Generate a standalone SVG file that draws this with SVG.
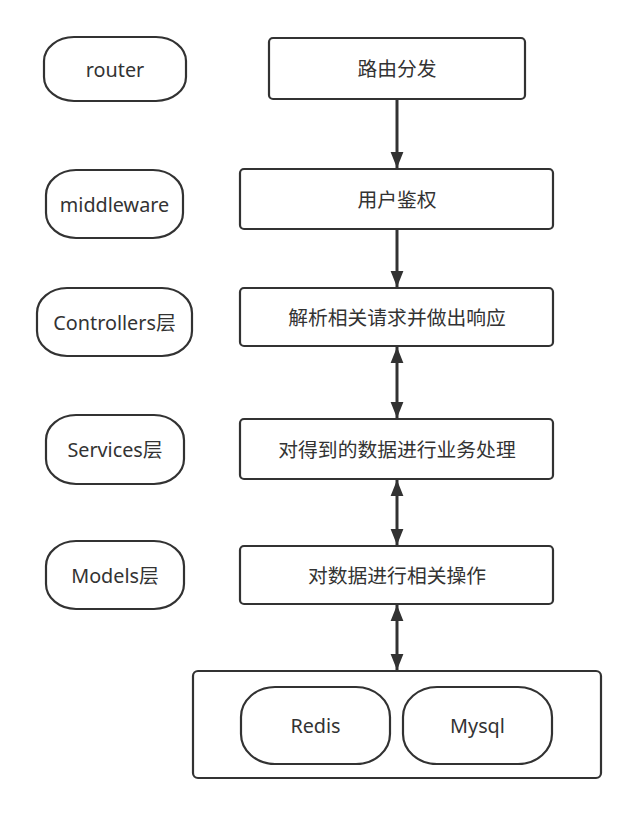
<svg xmlns="http://www.w3.org/2000/svg" width="638" height="817" viewBox="0 0 638 817">
<style>
.box{fill:#ffffff;stroke:#323232;stroke-width:2.2}
.t{font-family:"Noto Sans","Noto Sans CJK SC",sans-serif;font-size:19.8px;fill:#333333;text-anchor:middle;dominant-baseline:central}
.ln{stroke:#323232;stroke-width:3;fill:none}
</style>
<defs>
<marker id="ah" markerUnits="userSpaceOnUse" markerWidth="16" markerHeight="20" viewBox="0 0 20 16" refX="20" refY="8" orient="auto-start-reverse">
<path d="M0,0 L20,8 L0,16 Z" fill="#323232"/>
</marker>
</defs>
<rect width="638" height="817" fill="#ffffff"/>
<g id="router"><rect class="box" x="44" y="37" width="142" height="64" rx="30" ry="24"/><text class="t" x="115" y="69">router</text></g>
<g id="middleware"><rect class="box" x="46" y="170" width="137" height="68" rx="30" ry="25"/><text class="t" x="114.5" y="204">middleware</text></g>
<g id="controllers"><rect class="box" x="37" y="288" width="155" height="68" rx="30" ry="25"/><text class="t" x="114.5" y="322">Controllers层</text></g>
<g id="services"><rect class="box" x="46" y="415" width="138" height="69" rx="30" ry="25"/><text class="t" x="115" y="449.5">Services层</text></g>
<g id="models"><rect class="box" x="46" y="541" width="138" height="68" rx="30" ry="25"/><text class="t" x="115" y="575">Models层</text></g>
<g id="route"><rect class="box" x="269" y="38" width="256" height="61" rx="4"/><text class="t" x="397" y="68.5">路由分发</text></g>
<g id="auth"><rect class="box" x="240" y="169" width="313" height="60" rx="4"/><text class="t" x="397" y="199">用户鉴权</text></g>
<g id="parse"><rect class="box" x="240" y="288" width="313" height="58" rx="4"/><text class="t" x="397" y="317">解析相关请求并做出响应</text></g>
<g id="process"><rect class="box" x="240" y="419" width="313" height="60" rx="4"/><text class="t" x="397" y="449">对得到的数据进行业务处理</text></g>
<g id="dataop"><rect class="box" x="240" y="546" width="313" height="58" rx="4"/><text class="t" x="397" y="575">对数据进行相关操作</text></g>
<g id="storage"><rect class="box" x="193" y="671" width="408" height="107" rx="5"/></g>
<g id="redis"><rect class="box" x="241" y="687" width="149" height="77" rx="34" ry="30"/><text class="t" x="315.5" y="725.5">Redis</text></g>
<g id="mysql"><rect class="box" x="403" y="687" width="149" height="77" rx="34" ry="30"/><text class="t" x="477.5" y="725.5">Mysql</text></g>
<g id="connectors">
<line class="ln" x1="397" y1="100" x2="397" y2="168" marker-end="url(#ah)"/>
<line class="ln" x1="397" y1="230" x2="397" y2="287" marker-end="url(#ah)"/>
<line class="ln" x1="397" y1="347" x2="397" y2="418" marker-start="url(#ah)" marker-end="url(#ah)"/>
<line class="ln" x1="397" y1="480" x2="397" y2="545" marker-start="url(#ah)" marker-end="url(#ah)"/>
<line class="ln" x1="397" y1="605" x2="397" y2="670" marker-start="url(#ah)" marker-end="url(#ah)"/>
</g>
</svg>
